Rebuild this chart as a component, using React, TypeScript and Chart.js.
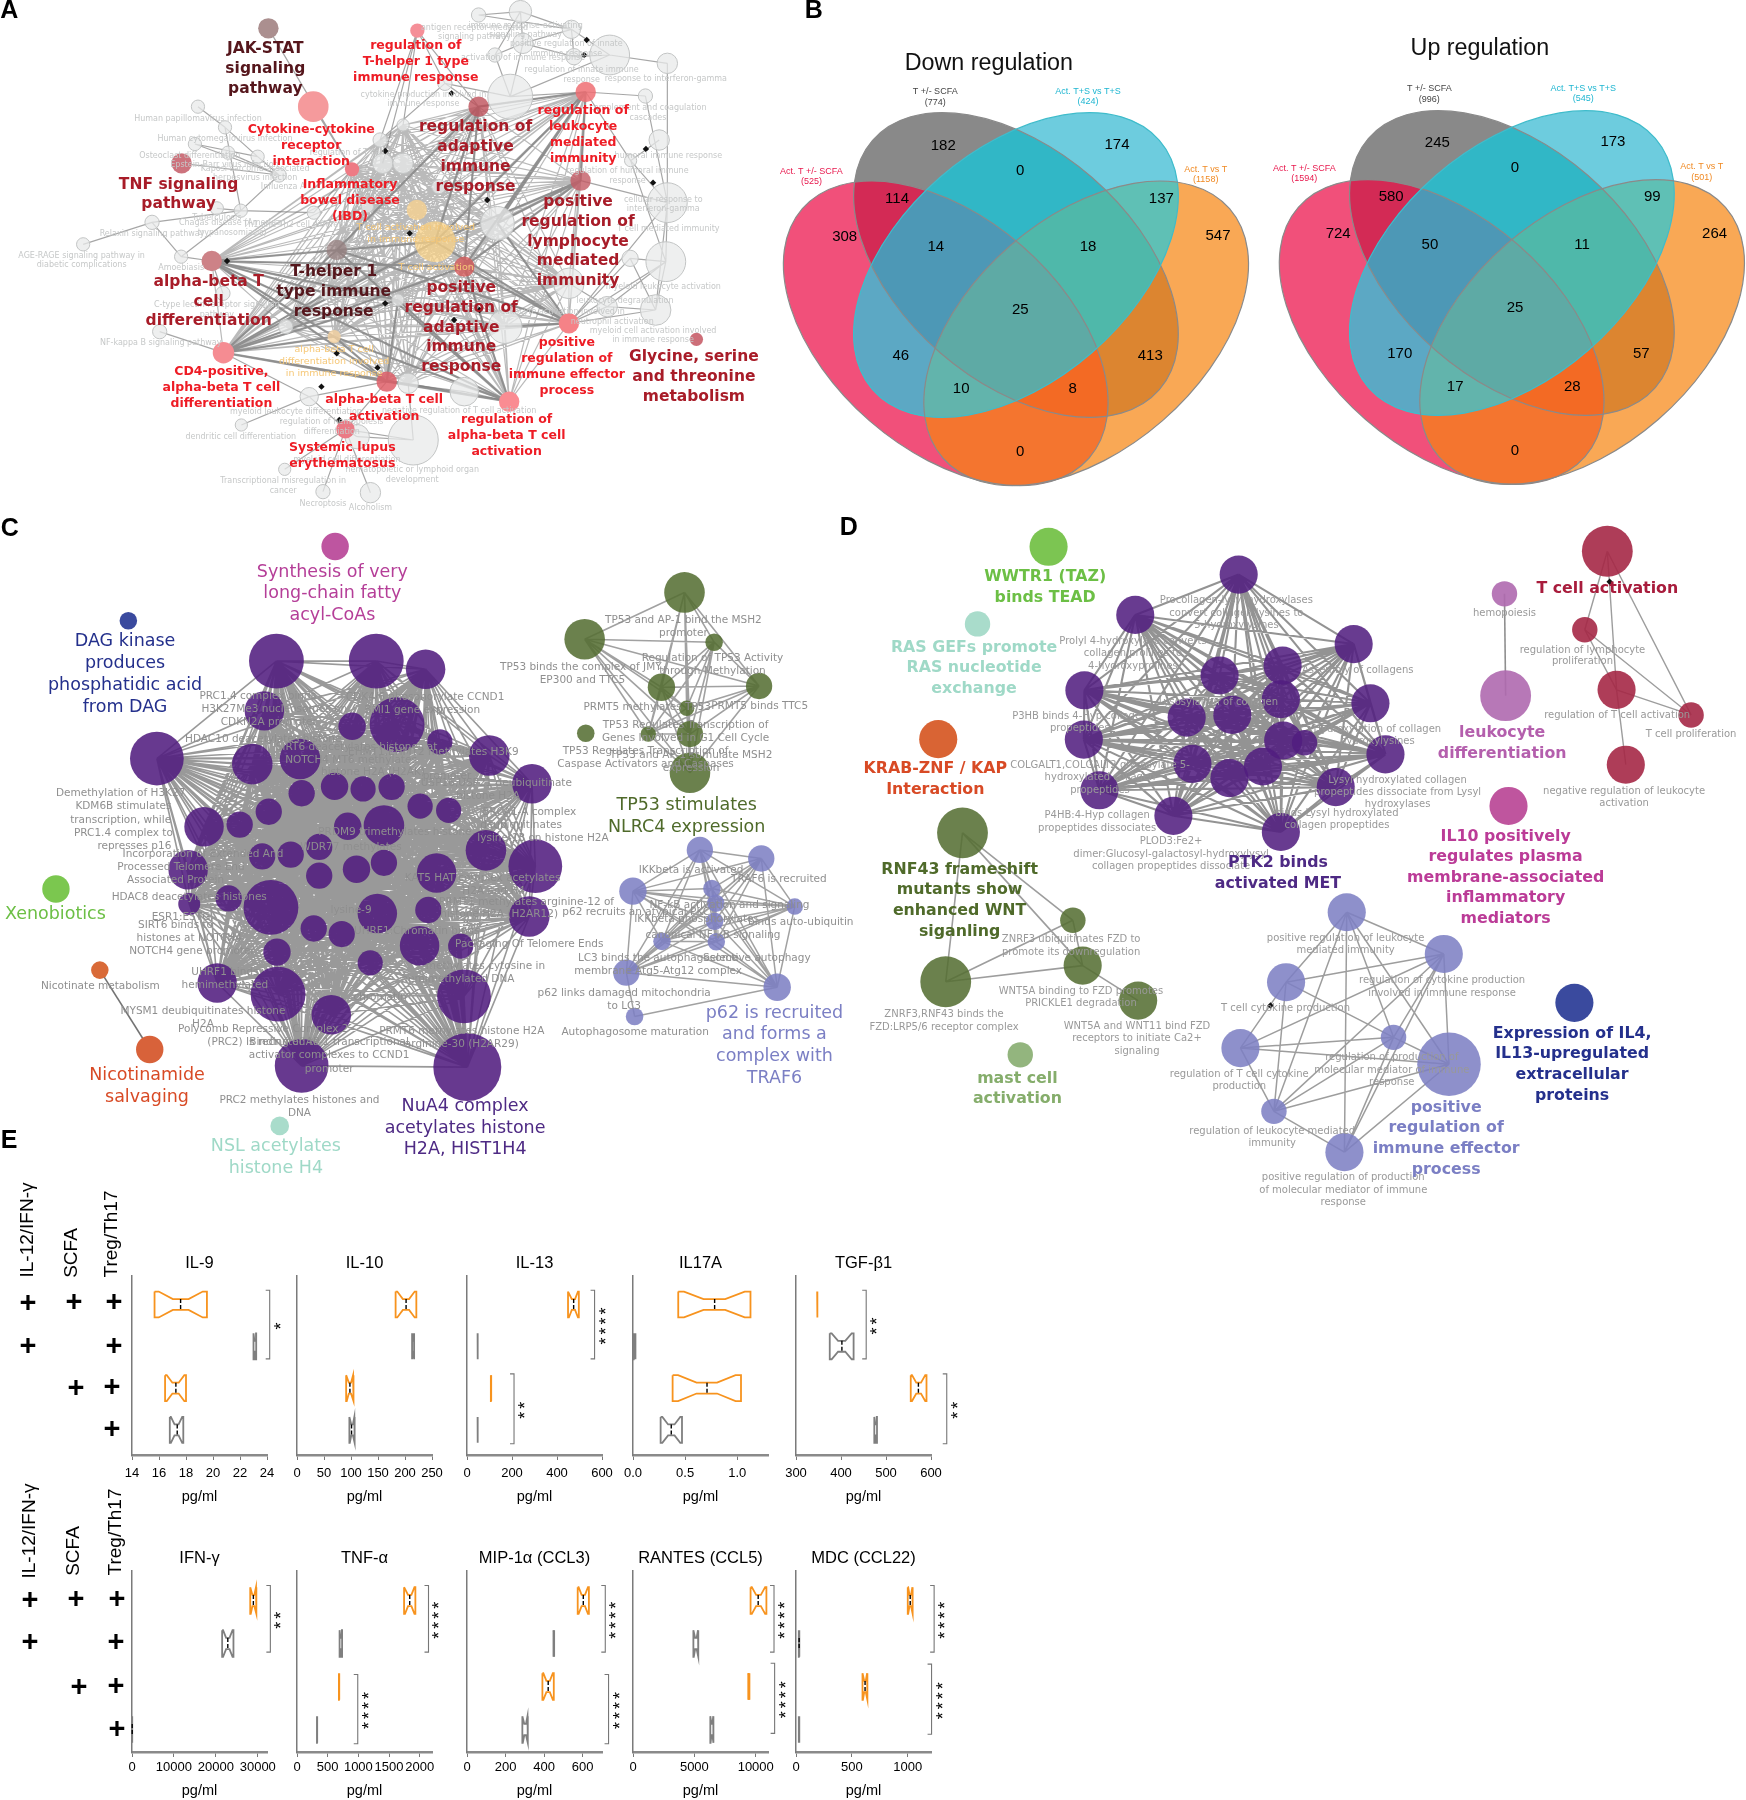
import React, { useEffect, useRef } from "react";
import { Chart, registerables } from "chart.js";
Chart.register(...registerables);

/* ---------- shared types ---------- */
type Row = [string, number, number, number?];
type Node = [number, number, number, string?];
type Item = { t: string; x: number; y: number; size: number; color: string; weight?: string; family?: string; rot?: number };
const NET = '"DejaVu Sans"';
const HEL = '"Liberation Sans"';

/* ---------- Panel A ---------- */
const aColored: Node[] = [
  [526,85,20,"#ab8f8f"],[614,320,30,"#f59a9c"],[818,92,14,"#f58f98"],[938,320,20,"rgba(190,80,90,0.8)"],[1148,276,20,"rgba(238,110,115,0.85)"],
  [1138,542,20,"rgba(195,90,100,0.8)"],[690,508,14,"#ee7a84"],[356,490,20,"#cd737d"],[415,783,20,"#cd8287"],[660,750,20,"rgba(150,125,125,0.7)"],
  [438,1058,21,"#f58c92"],[758,1145,20,"rgba(222,95,105,0.85)"],[677,1288,18,"#eb7a85"],[998,1205,20,"#fa8c92"],[1115,970,20,"#f58287"],
  [1365,1018,13,"#cd6e78"],[910,800,20,"rgba(212,90,90,0.8)"],[817,630,20,"rgba(248,210,145,0.8)"],[853,725,40,"rgba(248,210,135,0.75)"],[655,1010,13,"rgba(245,210,160,0.8)"],
];
const aGray: Node[] = [
  [938,45,14],[1020,35,22],[1120,88,18],[970,165,14],[1025,130,20],[1125,170,16],[1195,165,39],[1308,190,20],[872,250,14],
  [1000,290,44],[1265,288,14],[790,375,12],[1292,420,20],[1236,482,12],[1308,608,39],[975,670,33],[1305,785,39],[1235,775,16],
  [1190,920,20],[1285,930,30],[990,980,33],[910,1175,28],[1115,850,30],[810,1320,49],[700,1310,24],[606,1190,18],[473,1275,12],
  [558,1408,12],[633,1475,14],[726,1478,20],[800,1150,20],[388,320,13],[441,382,13],[382,432,13],[505,470,13],[447,458,13],
  [547,525,14],[425,625,13],[472,632,13],[298,667,14],[163,733,13],[355,770,13],[615,638,13],[437,880,14],[313,995,14],
  [745,420,14],[750,490,20],[790,490,20],[560,980,14],[780,900,12],[640,880,12],[860,560,14],[720,620,12],
];
const aCore = [3,4,5,6,8,9,10,11,13,14,16,17,18,19,31,35,40,42,50,65,66,67,68,69,70,71,72];
const aHubs: [number, number][] = [
  [8,9],[8,18],[8,16],[8,19],[8,70],[8,69],[8,11],[8,13],[10,9],[10,18],[10,16],[10,19],[10,70],[10,11],[10,13],[10,69],
  [13,16],[13,19],[13,11],[13,69],[13,9],[14,16],[14,18],[14,9],[14,40],[14,35],[4,3],[4,16],[4,18],[4,5],[4,35],[3,16],[3,18],[3,9],[5,16],[5,18],[5,35],[11,19],[11,69],
];
const aEdges: [number, number][] = [
  [51,52],[52,54],[53,54],[55,56],[54,56],[53,56],[56,58],[52,58],[7,56],[58,61],[59,61],[59,60],[59,58],[58,62],[57,58],[0,6],[1,6],
  [20,21],[20,22],[21,22],[21,23],[21,24],[22,24],[22,25],[23,24],[24,25],[25,26],[26,27],[27,34],[24,29],[22,26],[28,3],[28,2],[28,29],
  [28,65],[2,3],[2,31],[4,30],[4,29],[4,33],[33,32],[33,34],[5,34],[34,36],[34,39],[36,37],[36,39],[37,39],[38,39],[38,36],
  [14,39],[14,38],[14,34],[14,36],[45,12],[12,44],[12,43],[44,43],[45,46],[12,47],[12,48],[12,49],[45,11],[45,10],[50,43],[41,13],[41,11],
  [8,63],[10,64],[8,61],[6,62],[26,29],[23,29],[2,65],[2,66],[30,34],[33,36],[37,14],[42,38],[11,12],
];
const aArrowX = [445,803,755,1266,1280,1150,1145,885,755,890,660,740,630,665,940,955];
const aArrowY = [783,700,453,447,548,120,165,280,910,960,1060,1103,1160,1260,930,600];
const aLetter: Row[] = [["A",18,32]];
const aDark: Row[] = [["JAK-STAT\nsignaling\npathway",520,148,60],["T-helper 1\ntype immune\nresponse",654,815,60]];
const aBig: Row[] = [
  ["regulation of\nadaptive\nimmune\nresponse",932,382,60],["TNF signaling\npathway",350,555,58],
  ["positive\nregulation of\nlymphocyte\nmediated\nimmunity",1133,607,59],["alpha-beta T\ncell\ndifferentiation",409,847,58],
  ["positive\nregulation of\nadaptive\nimmune\nresponse",904,865,59],["Glycine, serine\nand threonine\nmetabolism",1360,1072,60],
];
const aRed: Row[] = [
  ["regulation of\nT-helper 1 type\nimmune response",815,138,47.5],["Cytokine-cytokine\nreceptor\ninteraction",610,390,47.5],
  ["regulation of\nleukocyte\nmediated\nimmunity",1143,332,48],["Inflammatory\nbowel disease\n(IBD)",686,555,47.5],
  ["positive\nregulation of\nimmune effector\nprocess",1111,1028,48],["CD4-positive,\nalpha-beta T cell\ndifferentiation",434,1115,47.5],
  ["alpha-beta T cell\nactivation",753,1200,49],["regulation of\nalpha-beta T cell\nactivation",993,1260,48],["Systemic lupus\nerythematosus",671,1343,47],
];
const aOrange: Row[] = [
  ["T cell activation involved\nin immune response",815,682,36],["T cell activation",855,803],
  ["alpha-beta T cell\ndifferentiation involved\nin immune response",655,1050,36],
];
const aSmall: Row[] = [
  ["Human papillomavirus infection",388,357],["Human cytomegalovirus infection",441,418],["Osteoclast differentiation",372,467],
  ["Epstein-Barr virus infection",440,495],["Kaposi sarcoma-associated\nherpesvirus infection",500,507,28],["Influenza A",555,560],
  ["Tuberculosis",425,655],["Chagas disease (American\ntrypanosomiasis)",455,668,30],["Th1 and Th2 cell differentiation",600,675],
  ["Relaxin signaling pathway",298,703],["AGE-RAGE signaling pathway in\ndiabetic complications",160,768,28],["Amoebiasis",355,805],
  ["C-type lectin receptor signaling\npathway",425,915,30],["NF-kappa B signaling pathway",315,1030],["dendritic cell differentiation",472,1310],
  ["myeloid leukocyte differentiation",580,1237],["regulation of hemopoiesis\ndifferentiation",650,1267,29],
  ["Transcriptional misregulation in\ncancer",555,1444,29],["Necroptosis",633,1513],["Alcoholism",726,1525],
  ["hematopoietic or lymphoid organ\ndevelopment",808,1410,29],["myeloid cell differentiation",680,1380],
  ["negative regulation of T cell activation",900,1232],["myeloid cell activation involved\nin immune response",1280,992,29],
  ["neutrophil activation",1200,967],["leukocyte activation involved in",1100,937],["myeloid leukocyte activation",1300,860],
  ["cellular response to\ninterferon-gamma",1300,600,28],["T cell mediated immunity",1310,686],["regulation of humoral immune\nresponse",1230,514,29],
  ["humoral immune response",1310,467],["complement and coagulation\ncascades",1270,324,29],["response to interferon-gamma",1305,236],
  ["regulation of innate immune\nresponse",1140,211,29],["positive regulation of innate\nimmune response",1110,133,30],
  ["activation of immune response",1025,173],["immune response-activating\nsignaling pathway",1030,77,28],
  ["antigen receptor-mediated\nsignaling pathway",930,83,28],["cytokine production involved in\nimmune response",830,284,28],
  ["leukocyte degranulation",1225,903],["regulation of T cell",680,460],
];

/* ---------- Panel B ---------- */
const downCounts = ["182","174","308","114","0","137","547","14","18","46","25","413","10","8","0"];
const upCounts = ["245","173","724","580","0","99","264","50","11","170","25","57","17","28","0"];
const downX = [265,547,105,190,390,619,711,253,500,196,390,601,294,475,390];
const downY = [438,434,710,598,513,597,708,742,740,1067,929,1067,1166,1166,1356];
const upX = [1067,1352,906,992,1193,1416,1517,1055,1302,1006,1193,1398,1096,1286,1193];
const upY = [430,426,703,590,504,590,701,736,734,1063,924,1063,1162,1162,1354];
const vennSetX = [269,383,383,497];
const vennSetYDown = [1000,795,795,1000];
const vennSetYUp = [996,789,789,996];
const vennShiftUp = 805;
const vennRegionColors: [number, string][] = [
  [1,"#f1507a"],[2,"#898989"],[4,"#6dccde"],[8,"#f9a855"],
  [3,"#d32a55"],[6,"#31b7c6"],[12,"#5fc0b5"],[5,"#5ca8c4"],[10,"#dc8530"],[9,"#f4752f"],
  [7,"#4d98b6"],[14,"#4fb8aa"],[13,"#62b4ac"],[11,"#f36a24"],[15,"#5eaaa5"],
];
const bTitles: Row[] = [["Down regulation",339,190],["Up regulation",1136,146]];
const bLetter: Row[] = [["B",55,34]];
const bGrayHeads: Row[] = [["T +/- SCFA\n(774)",252,275,33],["T +/- SCFA\n(996)",1054,266,33]];
const bCyanHeads: Row[] = [["Act. T+S vs T+S\n(424)",500,275,30],["Act. T+S vs T+S\n(545)",1304,265,30]];
const bOrangeHeads: Row[] = [["Act. T vs T\n(1158)",691,508,32],["Act. T vs T\n(501)",1496,500,32]];
const bPinkHeads: Row[] = [["Act. T +/- SCFA\n(525)",51,514,30],["Act. T +/- SCFA\n(1594)",851,507,30]];

/* ---------- Panel C ---------- */
const cSolo: Node[] = [
  [611,85,25,"#be55a0"],[234,258,16,"#3a4a9e"],[102,883,25,"#7bc74f"],[182,1072,16,"#d96a38"],[273,1257,25,"#d8623a"],[510,1435,17,"#a9dccb"],
];
const cPurple: Node[] = [
  [504,352,50],[686,352,50],[776,371,36],[286,579,49],[482,468,36],[642,504,25],[724,500,50],[802,540,23],[892,572,37],[970,638,36],
  [460,592,37],[547,580,37],[550,660,24],[610,644,25],[662,650,23],[714,645,24],[372,738,36],[437,733,24],[490,703,24],[634,737,25],
  [700,735,37],[766,690,23],[818,700,23],[886,793,37],[976,830,49],[343,838,36],[478,807,24],[530,803,24],[582,785,24],[582,852,24],
  [650,837,25],[700,822,24],[796,846,36],[345,918,20],[417,905,24],[494,926,50],[688,940,36],[781,932,24],[965,947,37],[572,975,24],
  [623,988,24],[765,1015,36],[840,1016,23],[505,1030,25],[675,1055,23],[396,1102,36],[507,1128,50],[604,1176,36],[846,1133,49],[550,1295,49],[852,1298,62],
];
const cGreen: Node[] = [[1248,192,37],[1066,301,37],[1302,308,16],[1206,413,25],[1384,410,24],[1252,462,14],[1182,522,14],[1258,522,24],[1258,612,37],[1068,520,16]];
const cBlue: Node[] = [[1276,792,24],[1388,812,24],[1154,888,25],[1298,882,16],[1305,916,16],[1449,924,15],[1303,958,16],[1306,1006,16],[1207,1005,16],[1142,1078,24],[1417,1112,25],[1157,1180,16]];
const cLetter: Row[] = [["C",18,45]];
const cLabelsTitle: [string, Row[]][] = [
  ["#b53e98",[["Synthesis of very\nlong-chain fatty\nacyl-CoAs",606,145,50]]],
  ["#24308c",[["DAG kinase\nproduces\nphosphatidic acid\nfrom DAG",228,307,51]]],
  ["#6cbf45",[["Xenobiotics",101,943]]],
  ["#d84a25",[["Nicotinamide\nsalvaging",268,1317,51]]],
  ["#9fd9c7",[["NSL acetylates\nhistone H4",503,1484,50]]],
  ["#4e2a84",[["NuA4 complex\nacetylates histone\nH2A, HIST1H4",848,1390,50]]],
  ["#4f6a2a",[["TP53 stimulates\nNLRC4 expression",1252,688,52]]],
  ["#7b7fc4",[["p62 is recruited\nand forms a\ncomplex with\nTRAF6",1412,1172,51]]],
];
const cSmall: Row[] = [
  ["Nicotinate metabolism",183,1110],["TP53 and AP-1 bind the MSH2\npromoter",1246,257,31],["Regulation of TP53 Activity\nthrough Methylation",1299,345,31],
  ["TP53 binds the complex of JMY,\nEP300 and TTC5",1062,366,30],["PRMT5 methylates TP53",1180,460],["PRMT5 binds TTC5",1385,458],
  ["TP53 Regulates Transcription of\nGenes Involved in G1 Cell Cycle",1250,501,31],["TP53 and AP-1 stimulate MSH2\nexpression",1260,571,30],
  ["TP53 Regulates Transcription of\nCaspase Activators and Caspases",1177,562,30],["IKKbeta is activated",1260,840],["TRAF6 is recruited",1420,860],
  ["p62 recruits an atypical PKC",1160,937],["NF-kB activation and signaling",1330,920],["IKKbeta phosphorylates",1270,953],["binds auto-ubiquitin",1460,961],
  ["canonical NF-kB signaling",1300,990],["LC3 binds the autophagosome\nmembrane Atg5-Atg12 complex",1200,1044,31],["Selective autophagy",1380,1044],
  ["p62 links damaged mitochondria\nto LC3",1138,1127,30],["Autophagosome maturation",1158,1216],
  ["PRC1.4 complex binds",470,435],["H3K27Me3 nucleosomes on",500,465],["CDKN2A promoter",490,495],["CDK4/6 phosphorylate CCND1",775,436],["BMI1 gene expression",770,466],
  ["HDAC10 deacetylates histone",480,533],["SIRT6 deacetylates histones at",650,553],["NOTCH4 MT6 methylates",640,582],["EHMT1,EHMT2 methylates H3K9",790,565],
  ["histone H2A (H2AK)",680,610],["promoter",815,620],["USP16,USP21 deubiquitinate",905,636],["histone H2A",890,667],["BRCA1-A complex",965,704],["deubiquitinates",950,734],
  ["lysine-13 on histone H2A",990,764],["Demethylation of H3K27",220,660],["KDM6B stimulates",225,691],["transcription, while",220,722],["PRC1.4 complex to",225,752],["represses p16",245,783],
  ["Incorporation of Extended And",370,803],["Processed Telomere End",330,833],["Associated Protein",320,863],["PRDM9 trimethylates histone",720,750],["WDR77 methylates",640,785],
  ["HDAC8 deacetylates histones",345,903],["ESR1:ESTG",330,950],["SIRT6 binds to",320,968],["histones at NOTCH4",345,998],["NOTCH4 gene promoter",350,1028],
  ["MYSM1 deubiquitinates histone\nH2A",370,1167,30],["Polycomb Repressive Complex 2\n(PRC2) Is recruited to",480,1210,30],["Binding of AP-1 transcriptional\nactivator complexes to CCND1\npromoter",600,1240,31],
  ["PRMT6 methylates histone H2A\narginine-30 (H2AR29)",842,1215,30],["PRC2 methylates histones and\nDNA",546,1376,30],["Packaging Of Telomere Ends",965,1012],["UHRF1:Chromatin binds",760,982],
  ["methylates cytosine in",885,1064],["hemimethylated DNA",835,1094],["UHRF1 binds\nhemimethylated",410,1078,30],["KAT5 HAT complex acetylates",880,858],["H2A and H4",900,889],
  ["PRMT1 methylates arginine-12 of",960,913],["histone H2A (H2AR12)",910,943],["lysine-9",640,932],["chromatin",693,1135],
];

/* ---------- Panel D ---------- */
const dSolo: Node[] = [[361,82,33,"#7cc552"],[238,254,22,"#a9dccb"],[170,511,33,"#d96434"],[312,1215,22,"#93b57e"],[1157,660,33,"#bf559e"],[1271,1099,33,"#3a4a9e"]];
const dGreen: Node[] = [[212,720,44],[403,915,22],[183,1052,44],[420,1016,33],[516,1094,33]];
const dPurple: Node[] = [
  [690,144,33],[511,234,33],[889,299,33],[423,402,33],[657,369,33],[766,347,33],[918,431,33],[422,512,33],[763,422,33],[600,463,33],[679,457,33],
  [767,514,33],[804,519,22],[944,545,33],[610,566,33],[674,598,33],[732,572,33],[449,625,33],[858,618,33],[577,682,33],[763,718,33],
];
const dCrimson: Node[] = [[1328,92,44],[1289,267,22],[1344,401,33],[1473,457,22],[1360,568,33]];
const dViolet: Node[] = [[1150,187,22],[1152,414,44]];
const dBlue: Node[] = [[877,897,33],[1045,990,33],[772,1053,33],[958,1176,22],[693,1200,33],[1054,1236,55],[751,1341,22],[873,1432,33]];
const dGreenEdges: [number, number][] = [[0,1],[0,3],[0,2],[1,2],[1,3],[2,3],[3,4]];
const dCrimsonEdges: [number, number][] = [[0,1],[0,2],[0,3],[1,2],[1,3],[2,3],[2,4]];
const dBlueEdges: [number, number][] = [[0,1],[0,2],[0,3],[0,6],[0,5],[0,7],[1,2],[1,3],[1,4],[1,5],[1,6],[1,7],[2,3],[2,4],[2,6],[3,4],[3,5],[3,6],[3,7],[4,5],[4,6],[5,6],[5,7],[6,7]];
const dArrowX = [745,1332];
const dArrowY = [1105,160];
const dLetter: Row[] = [["D",15,40]];
const dLabelsTitle: [string, Row[]][] = [
  ["#6cbf45",[["WWTR1 (TAZ)\nbinds TEAD",355,150,45]]],
  ["#9fd9c7",[["RAS GEFs promote\nRAS nucleotide\nexchange",232,307,46]]],
  ["#d84a25",[["KRAB-ZNF / KAP\nInteraction",165,578,46]]],
  ["#4f6a2a",[["RNF43 frameshift\nmutants show\nenhanced WNT\nsiganling",207,802,46]]],
  ["#85ad6b",[["mast cell\nactivation",307,1268,46]]],
  ["#4e2a84",[["PTK2 binds\nactivated MET",758,788,45]]],
  ["#a81c3c",[["T cell activation",1328,175]]],
  ["#b45fad",[["leukocyte\ndifferentiation",1146,497,46]]],
  ["#bb3b97",[["IL10 positively\nregulates plasma\nmembrane-associated\ninflammatory\nmediators",1152,728,46]]],
  ["#24308c",[["Expression of IL4,\nIL13-upregulated\nextracellular\nproteins",1267,1168,46]]],
  ["#7b7fc4",[["positive\nregulation of\nimmune effector\nprocess",1049,1333,46]]],
];
const dSmall: Row[] = [
  ["Procollagen-lysyl hydroxylases\nconvert collagen lysines to\n5-hydroxylysines",686,202,27.5],["Prolyl 4-hydroxylase converts\ncollagen prolines to\n4-hydroxyprolines",507,293,27.5],
  ["Assembly of collagens",896,358],["P3HB binds 4-Hyp collagen\npropeptides",415,460,28],["Lysosylation of collagen",655,430],["Hydroxylation of collagen\nhydroxylysines",930,489,27],
  ["COLGALT1,COLGALT2 glycosylate 5-\nhydroxylated collagen\npropeptides",450,569,28],["Lysyl hydroxylated collagen\npropeptides dissociate from Lysyl\nhydroxylases",965,602,27.5],
  ["P4HB:4-Hyp collagen\npropeptides dissociates",445,682,28],["PLOD3:Fe2+\ndimer:Glucosyl-galactosyl-hydroxylysyl\ncollagen propeptides dissociate",573,739,28],
  ["binds Lysyl hydroxylated\ncollagen propeptides",860,677,27],["hemopoiesis",1150,230],["regulation of lymphocyte\nproliferation",1285,312,26],["regulation of T cell activation",1345,459],
  ["T cell proliferation",1473,500],["negative regulation of leukocyte\nactivation",1357,628,27],["ZNRF3 ubiquitinates FZD to\npromote its downregulation",400,958,29],
  ["WNT5A binding to FZD promotes\nPRICKLE1 degradation",417,1074,27],["ZNRF3,RNF43 binds the\nFZD:LRP5/6 receptor complex",180,1124,29],
  ["WNT5A and WNT11 bind FZD\nreceptors to initiate Ca2+\nsignaling",514,1151,28],["positive regulation of leukocyte\nmediated immunity",875,955,28],
  ["regulation of cytokine production\ninvolved in immune response",1042,1049,28],["T cell cytokine production",771,1112],["regulation of T cell cytokine\nproduction",691,1259,27],
  ["regulation of production of\nmolecular mediator of immune\nresponse",955,1221,28],["regulation of leukocyte mediated\nimmunity",748,1385,28],
  ["positive regulation of production\nof molecular mediator of immune\nresponse",871,1489,28],
];

/* ---------- Panel E: [q1, median, q3] per row ---------- */
type Box = [number, number, number] | null;
const il9: Box[] = [[15.67,17.6,19.55],[23,23.1,23.2],[16.45,17.25,18],[16.8,17.35,17.8]];
const il10: Box[] = [[182.6,202,221],[213,215,217],[91,98,105],[97,101,107]];
const il13: Box[] = [[449,474,497],[47,47.5,48],[106,107,108],[47,47.5,48]];
const il17a: Box[] = [[0.434,0.783,1.127],[0.006,0.012,0.024],[0.38,0.71,1.036],[0.265,0.367,0.47]];
const tgfb1: Box[] = [[347,347.5,348],[375,402,428],[555,572,590],[474,477,480]];
const ifng: Box[] = [[28200,28950,29700],[21500,22850,24200],null,[20,50,80]];
const tnfa: Box[] = [[1745,1837,1929],[694,714,735],[683,685,690],[325,327,330]];
const mip1a: Box[] = [[574,603,632],[448,450,452],[391,421,450],[287,300,316]];
const rantes: Box[] = [[9580,10200,10870],[4920,5130,5330],[9380,9430,9490],[6300,6410,6560]];
const mdc: Box[] = [[1000,1022,1045],[25,28,31],[595,618,640],[25,27,30]];
/* rows whose median mark cannot be seen in the reference */
const topHiddenMedians = [[1],[1],[1,2,3],[1],[0,3]];
const bottomHiddenMedians = [[],[1,2,3],[1,3],[1,2,3],[3]];
const topTitles = ["IL-9","IL-10","IL-13","IL17A","TGF-β1"];
const bottomTitles = ["IFN-γ","TNF-α","MIP-1α (CCL3)","RANTES (CCL5)","MDC (CCL22)"];
const topRanges: [number, number][] = [[14,24],[0,250],[0,600],[0,1.295],[300,600]];
const bottomRanges: [number, number][] = [[0,32200],[0,2200],[0,700],[0,11000],[0,1208]];
const topTicks = [[14,16,18,20,22,24],[0,50,100,150,200,250],[0,200,400,600],[0,0.5,1],[300,400,500,600]];
const bottomTicks = [[0,10000,20000,30000],[0,500,1000,1500,2000],[0,200,400,600],[0,5000,10000],[0,500,1000]];
const axisLefts = [132,297,467,632.5,796];
/* brackets: [x value, upper row position, lower row position, stars] */
type Br = [number, number, number, string];
const topBrackets: Br[][] = [
  [[24.2,0.66,2.3,"*"]],[],[[567,0.66,2.3,"****"],[209,2.66,4.33,"**"]],[],[[456,0.66,2.3,"**"],[635,2.66,4.33,"**"]],
];
const bottomBrackets: Br[][] = [
  [[33000,0.65,2.2,"**"]],[[2143,0.65,2.2,"****"],[990,2.72,4.33,"****"]],[[717,0.65,2.2,"****"],[734,2.72,4.33,"****"]],
  [[11490,0.65,2.2,"****"],[11540,2.46,4.09,"****"]],[[1236,0.65,2.2,"****"],[1213,2.48,4.11,"****"]],
];
const eLetter: Row[] = [["E",9,1141]];
const eTexts: [string, number, number, number][] = [
  ["IL-12/IFN-γ",28,1230,-90],["SCFA",72,1253,-90],["Treg/Th17",112,1234,-90],
  ["IL-12/IFN-γ",30,1531,-90],["SCFA",74,1551,-90],["Treg/Th17",116,1532,-90],
];
const ePlusX = [28,74,114,28,114,76,112,112,30,76,117,30,116,79,116,117];
const ePlusY = [1303,1302,1302,1346,1346,1388,1387,1429,1600,1599,1599,1642,1642,1687,1686,1729];

/* ---------- helpers ---------- */
function rows(list: Row[], color: string, size: number, weight = "normal", family = NET): Item[] {
  const out: Item[] = [];
  list.forEach(([text, x, y, dy]) => text.split("\n").forEach((t, i) => out.push({ t, x, y: y + i * (dy || 0), size, color, weight, family })));
  return out;
}
function textPlugin(items: Item[]) {
  return {
    id: "textLabels",
    afterDatasetsDraw(chart: any) {
      const { ctx, scales } = chart;
      ctx.save();
      ctx.textAlign = "center";
      ctx.textBaseline = "middle";
      for (const it of items) {
        ctx.font = `${it.weight || "normal"} ${it.size}px ${it.family || NET}`;
        ctx.fillStyle = it.color;
        const px = scales.x.getPixelForValue(it.x);
        const py = scales.y.getPixelForValue(it.y);
        if (it.rot) {
          ctx.save();
          ctx.translate(px, py);
          ctx.rotate((it.rot * Math.PI) / 180);
          ctx.fillText(it.t, 0, 0);
          ctx.restore();
        } else ctx.fillText(it.t, px, py);
      }
      ctx.restore();
    },
  };
}
function allPairs(ids: number[]): [number, number][] {
  const out: [number, number][] = [];
  ids.forEach((a, i) => ids.slice(i + 1).forEach((b) => out.push([a, b])));
  return out;
}
const indexes = (n: Node[]) => n.map((_, i) => i);
function edgeSet(nodes: Node[], edges: [number, number][], color: string, width: number) {
  const data: { x: number; y: number }[] = [];
  edges.forEach(([a, b]) => {
    data.push({ x: nodes[a][0], y: nodes[a][1] }, { x: nodes[b][0], y: nodes[b][1] }, { x: NaN, y: NaN });
  });
  return { type: "scatter", showLine: true, data, borderColor: color, borderWidth: width, pointRadius: 0, order: 3, clip: false };
}
function nodeSet(nodes: Node[], k: number, fill: string | null, border = "rgba(0,0,0,0)", bw = 0) {
  return {
    type: "bubble",
    data: nodes.map((n) => ({ x: n[0], y: n[1], r: n[2] * k })),
    backgroundColor: nodes.map((n) => n[3] || fill),
    borderColor: border,
    borderWidth: bw,
    order: 1,
    clip: false,
  };
}
function arrowSet(xs: number[], ys: number[]) {
  return {
    type: "scatter",
    data: xs.map((x, i) => ({ x, y: ys[i] })),
    pointStyle: "rectRot",
    pointRadius: 3.2,
    backgroundColor: "#111",
    borderWidth: 0,
    order: 0,
    clip: false,
  };
}
function panelConfig(w: number, h: number, datasets: any[], items: Item[], extra: any[] = []) {
  return {
    type: "bubble",
    data: { datasets },
    options: {
      animation: false,
      responsive: false,
      events: [],
      layout: { padding: 0, autoPadding: false },
      plugins: { legend: { display: false }, tooltip: { enabled: false }, title: { display: false } },
      scales: {
        x: { type: "linear", display: false, min: 0, max: w },
        y: { type: "linear", display: false, min: 0, max: h, reverse: true },
      },
    },
    plugins: [...extra, textPlugin(items)],
  };
}
function vennPlugin() {
  const sets = (yList: number[], dx: number) => vennSetX.map((x, i) => ({ x: x + dx, y: yList[i], rot: i === 0 || i === 1 ? 41 : -41 }));
  const groups = [sets(vennSetYDown, 0), sets(vennSetYUp, vennShiftUp)];
  const A = 190, B = 116;
  return {
    id: "venn",
    beforeDatasetsDraw(chart: any) {
      const { ctx, scales, width, height } = chart;
      const path = (s: any) => {
        ctx.beginPath();
        ctx.ellipse(scales.x.getPixelForValue(s.x), scales.y.getPixelForValue(s.y), A, B, (s.rot * Math.PI) / 180, 0, Math.PI * 2);
      };
      groups.forEach((g) => {
        vennRegionColors.forEach(([mask, color]) => {
          ctx.save();
          g.forEach((s, i) => {
            if (mask & (1 << i)) {
              path(s);
              ctx.clip();
            }
          });
          ctx.fillStyle = color;
          ctx.fillRect(0, 0, width, height);
          ctx.restore();
        });
        ["#8a8a8a", "#8a8a8a", "#3fbccb", "#8a8a8a"].forEach((c, i) => {
          path(g[i]);
          ctx.strokeStyle = c;
          ctx.lineWidth = 1.2;
          ctx.stroke();
        });
      });
    },
  };
}

/* ---------- figure configs ---------- */
const LETTER = { size: 25, weight: "bold", family: HEL };
const letter = (r: Row[]) => rows(r, "#000", LETTER.size, LETTER.weight, LETTER.family);

function configA() {
  const k = 800 / 1568;
  const nodes = [...aColored, ...aGray];
  const items = [
    ...rows(aSmall, "#c6c8c8", 8),
    ...rows(aOrange, "#f6c878", 9.5),
    ...rows(aDark, "#55161c", 15.5, "bold"),
    ...rows(aBig, "#a81c28", 15.5, "bold"),
    ...rows(aRed, "#ee1c25", 12.5, "bold"),
    ...letter(aLetter),
  ];
  return panelConfig(1568, 1560, [
    edgeSet(nodes, allPairs(aCore), "rgba(130,130,130,0.55)", 1.2),
    edgeSet(nodes, aHubs, "rgba(120,120,120,0.7)", 2.2),
    edgeSet(nodes, aEdges, "rgba(150,150,150,0.85)", 1.2),
    arrowSet(aArrowX, aArrowY),
    nodeSet(aColored, k, null),
    nodeSet(aGray, k, "rgba(232,234,234,0.75)", "#c2c4c4", 1),
  ], items);
}
function configB() {
  const items: Item[] = [
    ...rows(bTitles, "#111", 23.3, "normal", HEL),
    ...rows(bGrayHeads, "#444", 9, "normal", HEL),
    ...rows(bCyanHeads, "#1fb6d1", 9, "normal", HEL),
    ...rows(bOrangeHeads, "#f08a24", 9, "normal", HEL),
    ...rows(bPinkHeads, "#e8184d", 9, "normal", HEL),
    ...letter(bLetter),
  ];
  downCounts.forEach((t, i) => items.push({ t, x: downX[i], y: downY[i], size: 15, color: "#000", family: HEL }));
  upCounts.forEach((t, i) => items.push({ t, x: upX[i], y: upY[i], size: 15, color: "#000", family: HEL }));
  return panelConfig(1568, 1500, [], items, [vennPlugin()]);
}
function configC() {
  const k = 860 / 1568;
  const items: Item[] = [...rows(cSmall, "#8f8f8f", 10.5)];
  cLabelsTitle.forEach(([c, r]) => items.push(...rows(r, c, 17.5)));
  items.push(...letter(cLetter));
  return panelConfig(1568, 1561, [
    edgeSet(cPurple, allPairs(indexes(cPurple)), "rgba(105,105,105,0.68)", 1.6),
    edgeSet(cGreen, allPairs([0,1,2,3,4,5,6,7,8]), "rgba(110,110,110,0.65)", 1.6),
    edgeSet(cBlue, [...allPairs([0,1,2,3,4,5,6,7,8,9,10]), [11,9],[11,10]], "rgba(110,110,110,0.65)", 1.5),
    edgeSet(cSolo, [[3,4]], "rgba(100,100,100,0.9)", 1.6),
    nodeSet(cSolo, k, null),
    nodeSet(cPurple, k, "rgba(82,30,128,0.88)"),
    nodeSet(cGreen, k, "rgba(85,110,50,0.87)"),
    nodeSet(cBlue, k, "rgba(125,128,195,0.87)"),
  ], items);
}
function configD() {
  const k = 906 / 1568;
  const items: Item[] = [...rows(dSmall, "#999", 10)];
  dLabelsTitle.forEach(([c, r]) => items.push(...rows(r, c, 15.8, "bold")));
  items.push(...letter(dLetter));
  return panelConfig(1568, 1561, [
    edgeSet(dPurple, allPairs(indexes(dPurple)), "rgba(105,105,105,0.72)", 2.1),
    edgeSet(dGreen, dGreenEdges, "rgba(115,115,115,0.7)", 1.6),
    edgeSet(dCrimson, dCrimsonEdges, "rgba(115,115,115,0.7)", 1.4),
    edgeSet(dViolet, [[0,1]], "rgba(115,115,115,0.8)", 1.6),
    edgeSet(dBlue, dBlueEdges, "rgba(115,115,115,0.7)", 1.5),
    arrowSet(dArrowX, dArrowY),
    nodeSet(dSolo, k, null),
    nodeSet(dGreen, k, "rgba(85,110,50,0.87)"),
    nodeSet(dPurple, k, "rgba(82,30,128,0.87)"),
    nodeSet(dCrimson, k, "rgba(165,40,70,0.9)"),
    nodeSet(dViolet, k, "rgba(175,105,175,0.9)"),
    nodeSet(dBlue, k, "rgba(125,128,195,0.87)"),
  ], items);
}
function configELeft() {
  const items: Item[] = eTexts.map(([t, x, y, rot]) => ({ t, x, y, rot, size: 19, color: "#000", family: HEL }));
  ePlusX.forEach((x, i) => items.push({ t: "+", x, y: ePlusY[i] + 1, size: 29, color: "#000", family: HEL, weight: "bold" }));
  items.push(...letter(eLetter));
  return panelConfig(160, 1800, [], items);
}
const PANEL_W = 135, PAD_L = 30, CANVAS_W = 195;
function configBox(title: string, boxes: Box[], hiddenMedians: number[], range: [number, number], ticks: number[], brackets: Br[], top: number, bottom: number, rowA: number, rowStep: number, tickPad: number, canvasBottom: number) {
  const yMin = 1 + (top - rowA) / rowStep;
  const yMax = 1 + (bottom - rowA) / rowStep;
  const pxUnit = (range[1] - range[0]) / PANEL_W;
  const datasets: any[] = [];
  boxes.forEach((b, i) => {
    if (!b) return;
    const [q1, med, q3] = b;
    const w = q3 - q1, r = i + 1, H = 0.31, N = 0.13;
    const color = i % 2 === 0 ? "#f7931e" : "#7f7f7f";
    const outline = [
      [q1,r-H],[q1+0.08*w,r-H],[q1+0.35*w,r-N],[q1+0.65*w,r-N],[q1+0.92*w,r-H],[q3,r-H],
      [q3,r+H],[q1+0.92*w,r+H],[q1+0.65*w,r+N],[q1+0.35*w,r+N],[q1+0.08*w,r+H],[q1,r+H],[q1,r-H],
    ].map(([x, y]) => ({ x, y }));
    datasets.push({ type: "scatter", showLine: true, data: outline, borderColor: color, borderWidth: 1.8, pointRadius: 0, clip: false, order: 2 });
    if (!hiddenMedians.includes(i)) {
      datasets.push({ type: "scatter", showLine: true, data: [{ x: med, y: r - N }, { x: med, y: r + N }], borderColor: "#000", borderWidth: 1.4, borderDash: [4, 2], pointRadius: 0, clip: false, order: 1 });
    }
  });
  brackets.forEach(([x, y1, y2]) => {
    const d = 4 * pxUnit;
    datasets.push({ type: "scatter", showLine: true, data: [{ x: x - d, y: y1 }, { x, y: y1 }, { x, y: y2 }, { x: x - d, y: y2 }], borderColor: "#777", borderWidth: 1.1, pointRadius: 0, clip: false, order: 3 });
  });
  const extra = {
    id: "eText",
    afterDatasetsDraw(chart: any) {
      const { ctx, scales, chartArea } = chart;
      ctx.save();
      ctx.textAlign = "center";
      ctx.textBaseline = "middle";
      ctx.fillStyle = "#000";
      ctx.font = `16.5px ${HEL}`;
      ctx.fillText(title, (chartArea.left + chartArea.right) / 2, chartArea.top - 13);
      ctx.font = `18px ${HEL}`;
      brackets.forEach(([x, y1, y2, stars]) => {
        const px = scales.x.getPixelForValue(x) + 8;
        const my = (scales.y.getPixelForValue(y1) + scales.y.getPixelForValue(y2)) / 2;
        ctx.save();
        ctx.translate(px, my);
        ctx.rotate(-Math.PI / 2);
        ctx.letterSpacing = "3px";
        ctx.fillText(stars, 0, 4);
        ctx.restore();
      });
      ctx.restore();
    },
  };
  return {
    type: "scatter",
    data: { datasets },
    options: {
      animation: false,
      responsive: false,
      events: [],
      layout: { autoPadding: false, padding: { left: PAD_L, right: CANVAS_W - PAD_L - PANEL_W, top: 30, bottom: 0 } },
      plugins: { legend: { display: false }, tooltip: { enabled: false } },
      scales: {
        x: {
          type: "linear",
          min: range[0],
          max: range[1],
          position: "bottom",
          afterFit: (s: any) => { s.height = canvasBottom - bottom; },
          afterBuildTicks: (s: any) => { s.ticks = ticks.map((value) => ({ value })); },
          grid: { drawOnChartArea: false, drawTicks: true, tickLength: 5, color: "#777" },
          border: { color: "#8a8a8a", width: 2.5 },
          title: { display: true, text: "pg/ml", color: "#000", font: { size: 14.5, family: "Liberation Sans" }, padding: 0 },
          ticks: {
            autoSkip: false,
            maxRotation: 0,
            minRotation: 0,
            padding: tickPad,
            color: "#000",
            font: { size: 13, family: "Liberation Sans" },
            callback: (v: number) => (range[1] < 2 ? v.toFixed(1) : String(v)),
          },
        },
        y: {
          type: "linear",
          min: yMin,
          max: yMax,
          reverse: true,
          position: "left",
          afterFit: (s: any) => { s.width = 0; },
          ticks: { display: false },
          grid: { display: false },
          border: { color: "#7a7a7a", width: 1.5 },
        },
      },
    },
    plugins: [extra],
  };
}

/* ---------- component ---------- */
type Spec = { left: number; top: number; w: number; h: number; make: () => any };
const topBoxes = [il9, il10, il13, il17a, tgfb1];
const bottomBoxes = [ifng, tnfa, mip1a, rantes, mdc];
const specs: Spec[] = [
  { left: 0, top: 0, w: 800, h: 520, make: configA },
  { left: 780, top: 0, w: 966, h: 500, make: configB },
  { left: 0, top: 510, w: 860, h: 670, make: configC },
  { left: 840, top: 510, w: 906, h: 700, make: configD },
  { left: 0, top: 0, w: 160, h: 1800, make: configELeft },
  ...topTitles.map((t, i) => ({
    left: axisLefts[i] - PAD_L, top: 1246, w: CANVAS_W, h: 260,
    make: () => configBox(t, topBoxes[i], topHiddenMedians[i], topRanges[i], topTicks[i], topBrackets[i], 1276, 1455, 1304.5, 41.8, 6, 1506),
  })),
  ...bottomTitles.map((t, i) => ({
    left: axisLefts[i] - PAD_L, top: 1541, w: CANVAS_W, h: 259,
    make: () => configBox(t, bottomBoxes[i], bottomHiddenMedians[i], bottomRanges[i], bottomTicks[i], bottomBrackets[i], 1571, 1752, 1600.5, 43, 3, 1800),
  })),
];

function ChartCanvas({ spec }: { spec: Spec }) {
  const ref = useRef<HTMLCanvasElement>(null);
  useEffect(() => {
    const chart = new Chart(ref.current as any, spec.make());
    return () => chart.destroy();
  }, [spec]);
  return <canvas ref={ref} width={spec.w} height={spec.h} style={{ position: "absolute", left: spec.left, top: spec.top, width: spec.w, height: spec.h }} />;
}

export default function App() {
  return (
    <div style={{ position: "absolute", left: 0, top: 0, width: 1746, height: 1800, background: "#fff", overflow: "hidden" }}>
      {specs.map((s, i) => <ChartCanvas key={i} spec={s} />)}
    </div>
  );
}
